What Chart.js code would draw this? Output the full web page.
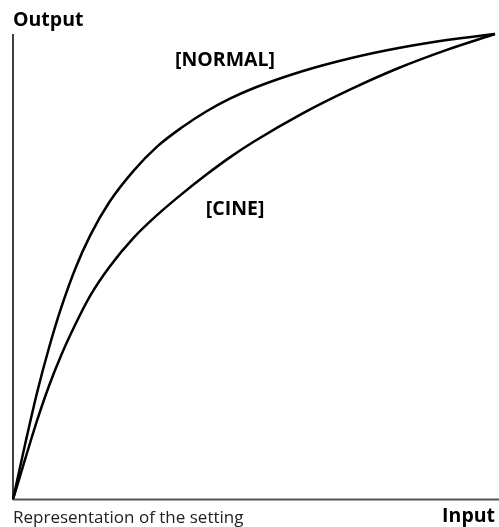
<!DOCTYPE html>
<html>
<head>
<meta charset="utf-8">
<script src="https://cdn.jsdelivr.net/npm/chart.js@4.4.0/dist/chart.umd.min.js"></script>
<style>
    html, body { margin: 0; padding: 0; background: #fff; }
    #wrap { width: 499px; height: 527px; position: relative; }
</style>
</head>
<body>
<div id="wrap"><canvas id="curveChart"></canvas></div>
<script>
// Input / output points for both gamma settings (0-100 scale)
const inputSteps   = [0, 2.5, 5, 7.5, 10, 13, 16, 20, 25, 30, 35, 40, 45, 50, 60, 70, 80, 90, 100];
const normalOutput = [0, 11.8, 23.0, 32.7, 41.2, 49.8, 56.7, 63.9, 70.6, 75.9, 79.9, 83.3, 86.1, 88.4, 92.0, 94.8, 97.0, 98.7, 100];
const cineOutput   = [0, 8.6, 17.0, 24.5, 31.0, 37.75, 43.75, 49.95, 56.2, 61.2, 65.6, 69.7, 73.5, 76.9, 82.9, 88.1, 92.7, 96.6, 100];

// curve names and where their labels sit (data coords)
const curveNames = ['[NORMAL]', '[CINE]'];
const labelX = [33.6, 40.0];
const labelY = [93.1, 61.1];

const toPoints = (xs, ys) => xs.map((x, i) => ({ x: x, y: ys[i] }));

const fontBold = 'bold 19.5px "Open Sans"';
const fontReg = '17px "Open Sans"';

// axes lines, axis names and curve labels
const decorations = {
    id: 'decorations',
    afterDatasetsDraw(chart) {
        const ctx = chart.ctx;
        const area = chart.chartArea;
        const xs = chart.scales.x;
        const ys = chart.scales.y;
        ctx.save();

        // x axis
        ctx.strokeStyle = '#555';
        ctx.lineWidth = 2;
        ctx.beginPath();
        ctx.moveTo(area.left, area.bottom);
        ctx.lineTo(chart.width, area.bottom);
        ctx.stroke();

        // y axis
        ctx.strokeStyle = '#000';
        ctx.lineWidth = 1.5;
        ctx.beginPath();
        ctx.moveTo(area.left, area.top);
        ctx.lineTo(area.left, area.bottom);
        ctx.stroke();

        ctx.fillStyle = '#000';
        ctx.textBaseline = 'alphabetic';
        ctx.font = fontBold;
        ctx.textAlign = 'left';
        ctx.fillText('Output', area.left, 26);
        curveNames.forEach((name, i) => {
            ctx.fillText(name, xs.getPixelForValue(labelX[i]), ys.getPixelForValue(labelY[i]));
        });
        ctx.textAlign = 'right';
        ctx.fillText('Input', area.right, 522);

        ctx.font = fontReg;
        ctx.textAlign = 'left';
        ctx.fillStyle = '#222';
        ctx.fillText('Representation of the setting', area.left, 523);
        ctx.restore();
    }
};

const lineStyle = {
    showLine: true,
    borderColor: '#000',
    borderWidth: 2.5,
    pointRadius: 0,
    cubicInterpolationMode: 'monotone',
    clip: false
};

const ctx = document.getElementById('curveChart').getContext('2d');
new Chart(ctx, {
    type: 'scatter',
    data: {
        datasets: [
            Object.assign({ label: curveNames[0], data: toPoints(inputSteps, normalOutput) }, lineStyle),
            Object.assign({ label: curveNames[1], data: toPoints(inputSteps, cineOutput) }, lineStyle)
        ]
    },
    options: {
        responsive: true,
        maintainAspectRatio: false,
        animation: false,
        layout: {
            padding: { left: 13, top: 34, right: 4, bottom: 27.5 }
        },
        plugins: {
            legend: { display: false },
            tooltip: { enabled: false }
        },
        scales: {
            x: { type: 'linear', min: 0, max: 100, display: false },
            y: { type: 'linear', min: 0, max: 100, display: false }
        }
    },
    plugins: [decorations]
});
</script>
</body>
</html>
